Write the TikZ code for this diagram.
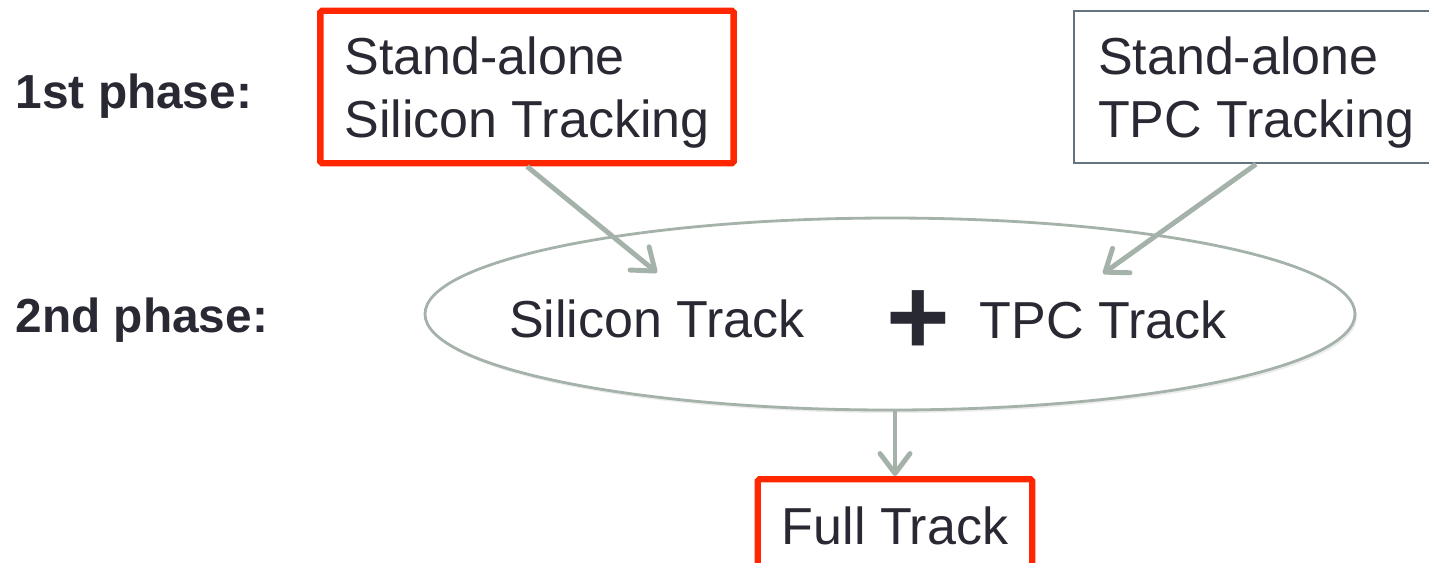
\documentclass[tikz,border=0pt]{standalone}
\usepackage{fontspec}
\setmainfont{Liberation Sans}
\usetikzlibrary{arrows.meta,positioning,shapes.geometric,shadows}
\definecolor{inkdark}{RGB}{41,41,51}
\definecolor{hotred}{RGB}{255,38,0}
\definecolor{sage}{RGB}{165,178,170}
\definecolor{slate}{RGB}{100,115,125}

\begin{document}
\begin{tikzpicture}[
  font=\fontsize{14.8}{17.9}\selectfont, text=inkdark,
  stage/.style={rectangle, align=left, text depth=0pt, inner xsep=0.24cm, inner ysep=0.26cm},
  redstage/.style={stage, draw=hotred, line width=1.8pt, rounded corners=0.5pt},
  greystage/.style={stage, draw=slate, line width=0.5pt},
  phase/.style={anchor=base west, inner sep=0pt, font=\fontsize{13.6}{16}\selectfont\bfseries},
  track/.style={anchor=base, inner xsep=0pt, inner ysep=0.26cm},
  flow/.style={draw=sage, line width=1.4pt, -{Straight Barb[length=2mm,width=3mm,round]}}
]
  \clip (0,0) rectangle (14.29,-5.62);

  \node[phase] (p1) at (0.15,-1.08) {1st phase:};
  \node[phase] (p2) at (0.15,-3.32) {2nd phase:};

  \node[redstage] (sasil) at (5.27,-0.87) {Stand-alone\\Silicon Tracking};
  \node[greystage] (satpc) at (12.56,-0.87) {Stand-alone\\TPC Tracking};

  \node[ellipse, draw=sage, line width=0.8pt, fill=white, minimum width=9.3cm, minimum height=1.92cm,
        drop shadow={opacity=0.15, shadow xshift=0.02cm, shadow yshift=-0.03cm}] (merge) at (8.9,-3.14) {};
  \node[track] (siltrk) at (6.57,-3.37) {Silicon Track};
  \node[inner sep=0pt, font=\fontsize{31}{31}\selectfont\bfseries] (plus) at (9.18,-3.23) {+};
  \node[track] (tpctrk) at (11.03,-3.38) {TPC Track};

  \node[redstage, anchor=north, inner ysep=0.28cm] (full) at (8.95,-4.76) {Full Track};

  \draw[flow] (sasil.south) -- (siltrk.north);
  \draw[flow] (satpc.south) -- (tpctrk.north);
  \draw[flow] (full.north |- merge.south) -- (full.north);
\end{tikzpicture}
\end{document}
